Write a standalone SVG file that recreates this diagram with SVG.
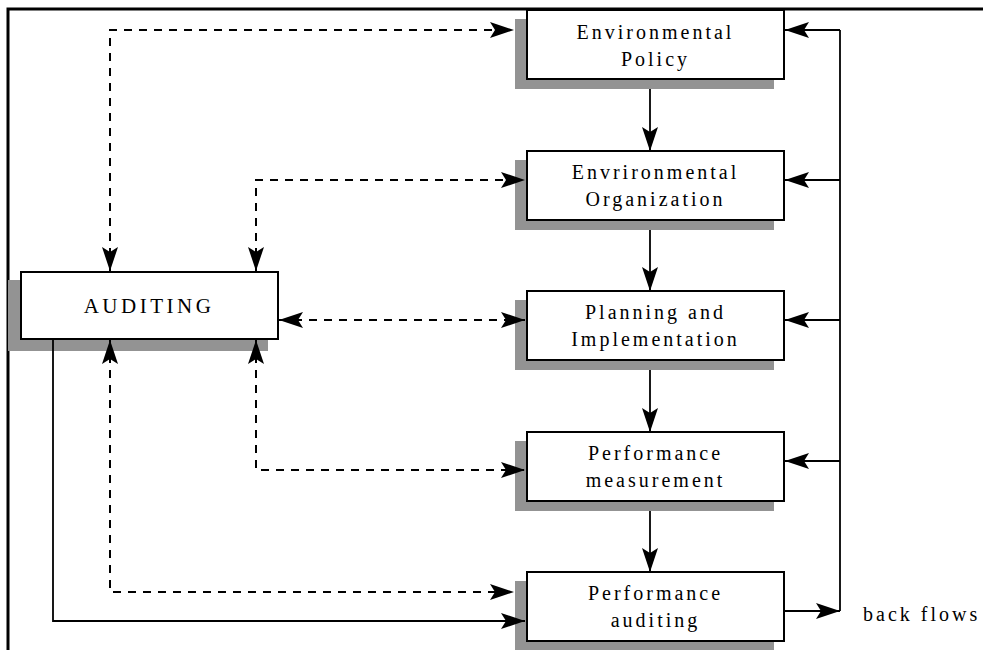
<svg xmlns="http://www.w3.org/2000/svg" width="983" height="650" viewBox="0 0 983 650">
<style>
.frame{fill:none;stroke:#000;stroke-width:3}
.shadow{fill:#939393;stroke:none}
.box{fill:#fff;stroke:#000;stroke-width:2}
.lbl{font-size:20px;letter-spacing:3px;fill:#000;text-anchor:middle}
.solid{fill:none;stroke:#000;stroke-width:1.8}
.dash{fill:none;stroke:#000;stroke-width:2;stroke-dasharray:8 7}
</style>
<defs>
<marker id="ah" viewBox="0 0 25 16" refX="24" refY="8" markerWidth="25" markerHeight="16" markerUnits="userSpaceOnUse" orient="auto-start-reverse">
<path d="M0,0 L24,8 L0,16 L5,8 Z" fill="#000" stroke="none"/>
</marker>
</defs>
<rect width="983" height="650" fill="#fff"/>
<path class="frame" d="M8,650 V9 H983"/>

<g font-family="'Liberation Serif', 'DejaVu Serif', serif">
<g id="auditing">
<rect class="shadow" x="8" y="280" width="260" height="71"/>
<rect class="box" x="21" y="272" width="257" height="67"/>
<text class="lbl" x="149" y="313" style="font-size:21px;letter-spacing:3.5px">AUDITING</text>
</g>

<g id="env-policy">
<rect class="shadow" x="515" y="19" width="259" height="70"/>
<rect class="box" x="527" y="10" width="257" height="69"/>
<text class="lbl" x="655.5" y="38.5">Environmental</text>
<text class="lbl" x="655.5" y="66">Policy</text>
</g>

<g id="env-org">
<rect class="shadow" x="515" y="160" width="259" height="70"/>
<rect class="box" x="527" y="151" width="257" height="69"/>
<text class="lbl" x="655.5" y="178.5">Envrironmental</text>
<text class="lbl" x="655.5" y="206">Organization</text>
</g>

<g id="planning">
<rect class="shadow" x="515" y="300" width="259" height="70"/>
<rect class="box" x="527" y="291" width="257" height="69"/>
<text class="lbl" x="655.5" y="318.5">Planning and</text>
<text class="lbl" x="655.5" y="346">Implementation</text>
</g>

<g id="perf-meas">
<rect class="shadow" x="515" y="441" width="259" height="70"/>
<rect class="box" x="527" y="432" width="257" height="69"/>
<text class="lbl" x="655.5" y="459.5">Performance</text>
<text class="lbl" x="655.5" y="487">measurement</text>
</g>

<g id="perf-aud">
<rect class="shadow" x="515" y="581" width="259" height="70"/>
<rect class="box" x="527" y="572" width="257" height="69"/>
<text class="lbl" x="655.5" y="599.5">Performance</text>
<text class="lbl" x="655.5" y="627">auditing</text>
</g>

<g id="backflows-label">
<text class="lbl" x="863" y="621" style="text-anchor:start">back flows</text>
</g>
</g>

<g id="connectors">
<path class="dash" d="M110,271 V30 H514" marker-start="url(#ah)" marker-end="url(#ah)"/>
<path class="dash" d="M256,271 V180 H525" marker-start="url(#ah)" marker-end="url(#ah)"/>
<path class="dash" d="M279,320 H525" marker-start="url(#ah)" marker-end="url(#ah)"/>
<path class="dash" d="M256,340 V470 H525" marker-start="url(#ah)" marker-end="url(#ah)"/>
<path class="dash" d="M110,340 V592 H514" marker-start="url(#ah)" marker-end="url(#ah)"/>
<path class="solid" d="M53,339 V621 H525" marker-end="url(#ah)"/>

<path class="solid" d="M650,89 V151" marker-end="url(#ah)"/>
<path class="solid" d="M650,230 V291" marker-end="url(#ah)"/>
<path class="solid" d="M650,370 V432" marker-end="url(#ah)"/>
<path class="solid" d="M650,511 V572" marker-end="url(#ah)"/>

<path class="solid" d="M840,30 V611"/>
<path class="solid" d="M840,30 H785" marker-end="url(#ah)"/>
<path class="solid" d="M840,180 H785" marker-end="url(#ah)"/>
<path class="solid" d="M840,320 H785" marker-end="url(#ah)"/>
<path class="solid" d="M840,461 H785" marker-end="url(#ah)"/>
<path class="solid" d="M784,611 H840" marker-end="url(#ah)"/>
</g>
</svg>
